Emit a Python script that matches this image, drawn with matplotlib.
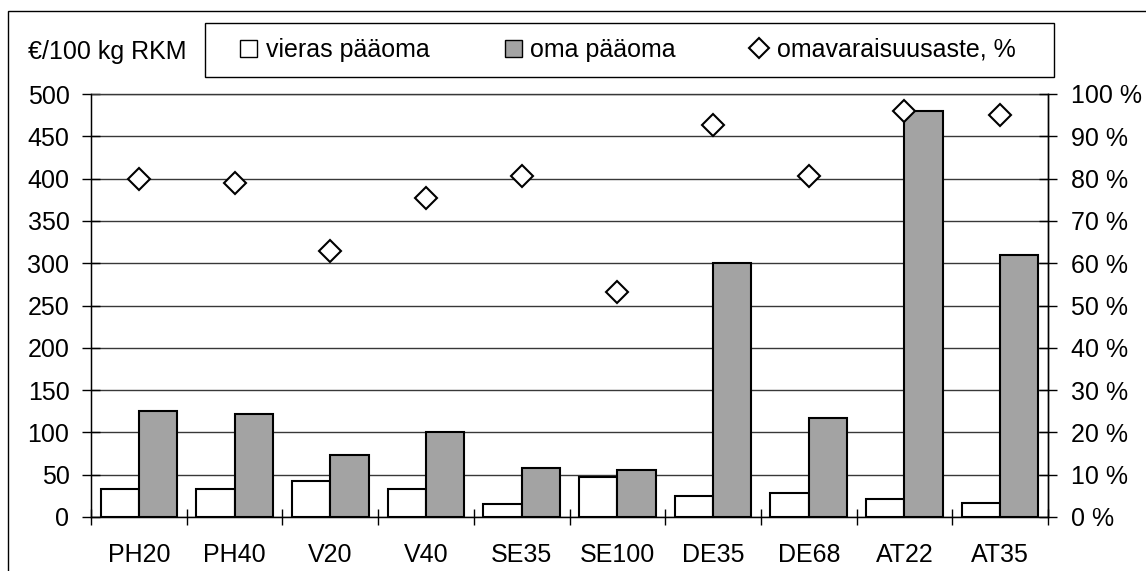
import matplotlib
matplotlib.use("Agg")
import matplotlib.pyplot as plt
from matplotlib.patches import Rectangle
from matplotlib.lines import Line2D
from matplotlib.patches import Patch
import numpy as np

categories = ["PH20", "PH40", "V20", "V40", "SE35", "SE100", "DE35", "DE68", "AT22", "AT35"]
vieras = [33, 33, 43, 33, 15, 47, 25, 28, 21, 17]
oma = [125, 122, 73, 100, 58, 55, 300, 117, 480, 310]
omavaraisuus = [80, 79, 63, 75.5, 80.7, 53.3, 92.7, 80.7, 96, 95]
left_ticks = [0, 50, 100, 150, 200, 250, 300, 350, 400, 450, 500]
right_ticks = [0, 10, 20, 30, 40, 50, 60, 70, 80, 90, 100]

plt.rcParams['font.family'] = ['Liberation Sans', 'DejaVu Sans']
FS = 18

W, H = 1146, 571
fig = plt.figure(figsize=(W / 100, H / 100), dpi=100)
ax = fig.add_axes([91 / W, 1 - 517 / H, (1048 - 91) / W, (517 - 94) / H])

x = np.arange(len(categories))
grey = "#a3a3a3"
ax.bar(x - 0.2, vieras, width=0.4, color="white", edgecolor="black", linewidth=1.5, zorder=3)
ax.bar(x + 0.2, oma, width=0.4, color=grey, edgecolor="black", linewidth=1.5, zorder=3)

ax.set_xlim(-0.5, len(categories) - 0.5)
ax.set_ylim(0, 500)
ax.set_yticks(left_ticks)
ax.set_yticklabels([str(v) for v in left_ticks], fontsize=FS)
ax.yaxis.grid(True, color="#383838", linewidth=1.0, zorder=0)
ax.set_axisbelow(True)
ax.set_xticks(x)
ax.set_xticklabels(categories, fontsize=FS)
ax.set_xticks(np.arange(-0.5, len(categories)), minor=True)
ax.tick_params(axis="x", which="major", length=0, pad=19)
ax.tick_params(axis="x", which="minor", length=12, direction="inout", width=1.0)
ax.tick_params(axis="y", which="major", length=13, direction="inout", width=1.0, pad=9)
for s in ["left", "bottom", "right"]:
    ax.spines[s].set_linewidth(1.0)
ax.spines["top"].set_linewidth(1.0)
ax.spines["top"].set_color("#383838")

ax2 = ax.twinx()
ax2.plot(x, omavaraisuus, linestyle="none", marker="D", markersize=11.5,
         markerfacecolor="white", markeredgecolor="black", markeredgewidth=1.5, zorder=5)
ax2.set_ylim(0, 100)
ax2.set_yticks(right_ticks)
ax2.set_yticklabels([f"{v} %" for v in right_ticks], fontsize=FS)
ax2.tick_params(axis="y", length=13, direction="inout", width=1.0, pad=10)
ax2.spines["right"].set_linewidth(1.0)
ax2.spines["top"].set_visible(False)

# outer chart border
fig.patches.append(Rectangle((8 / W, -0.2), 1.5, 1.2 - 11 / H, transform=fig.transFigure,
                             fill=False, edgecolor="black", linewidth=1.0, clip_on=False))

fig.text(107 / W, 1 - 52 / H, "€/100 kg RKM", fontsize=FS, va="center", ha="center")

# legend frame
fig.patches.append(Rectangle((205 / W, 1 - 77 / H), (1054 - 205) / W, 54 / H,
                             transform=fig.transFigure, fill=False, edgecolor="black",
                             linewidth=1.0))

handles = [
    Patch(facecolor="white", edgecolor="black", linewidth=1.0),
    Patch(facecolor=grey, edgecolor="black", linewidth=1.0),
    Line2D([], [], linestyle="none", marker="D", markersize=10, markerfacecolor="white",
           markeredgecolor="black", markeredgewidth=1.5),
]
labels = ["vieras pääoma", "oma pääoma", "omavaraisuusaste, %"]
leg = fig.legend(handles, labels, ncol=3, loc="center left",
                 bbox_to_anchor=(240 / W, 1 - 50 / H),
                 frameon=False, fontsize=FS,
                 handlelength=0.68, handleheight=0.68, handletextpad=0.35, columnspacing=3.0,
                 borderpad=0, borderaxespad=0)

fig.savefig("out.png", dpi=100)
